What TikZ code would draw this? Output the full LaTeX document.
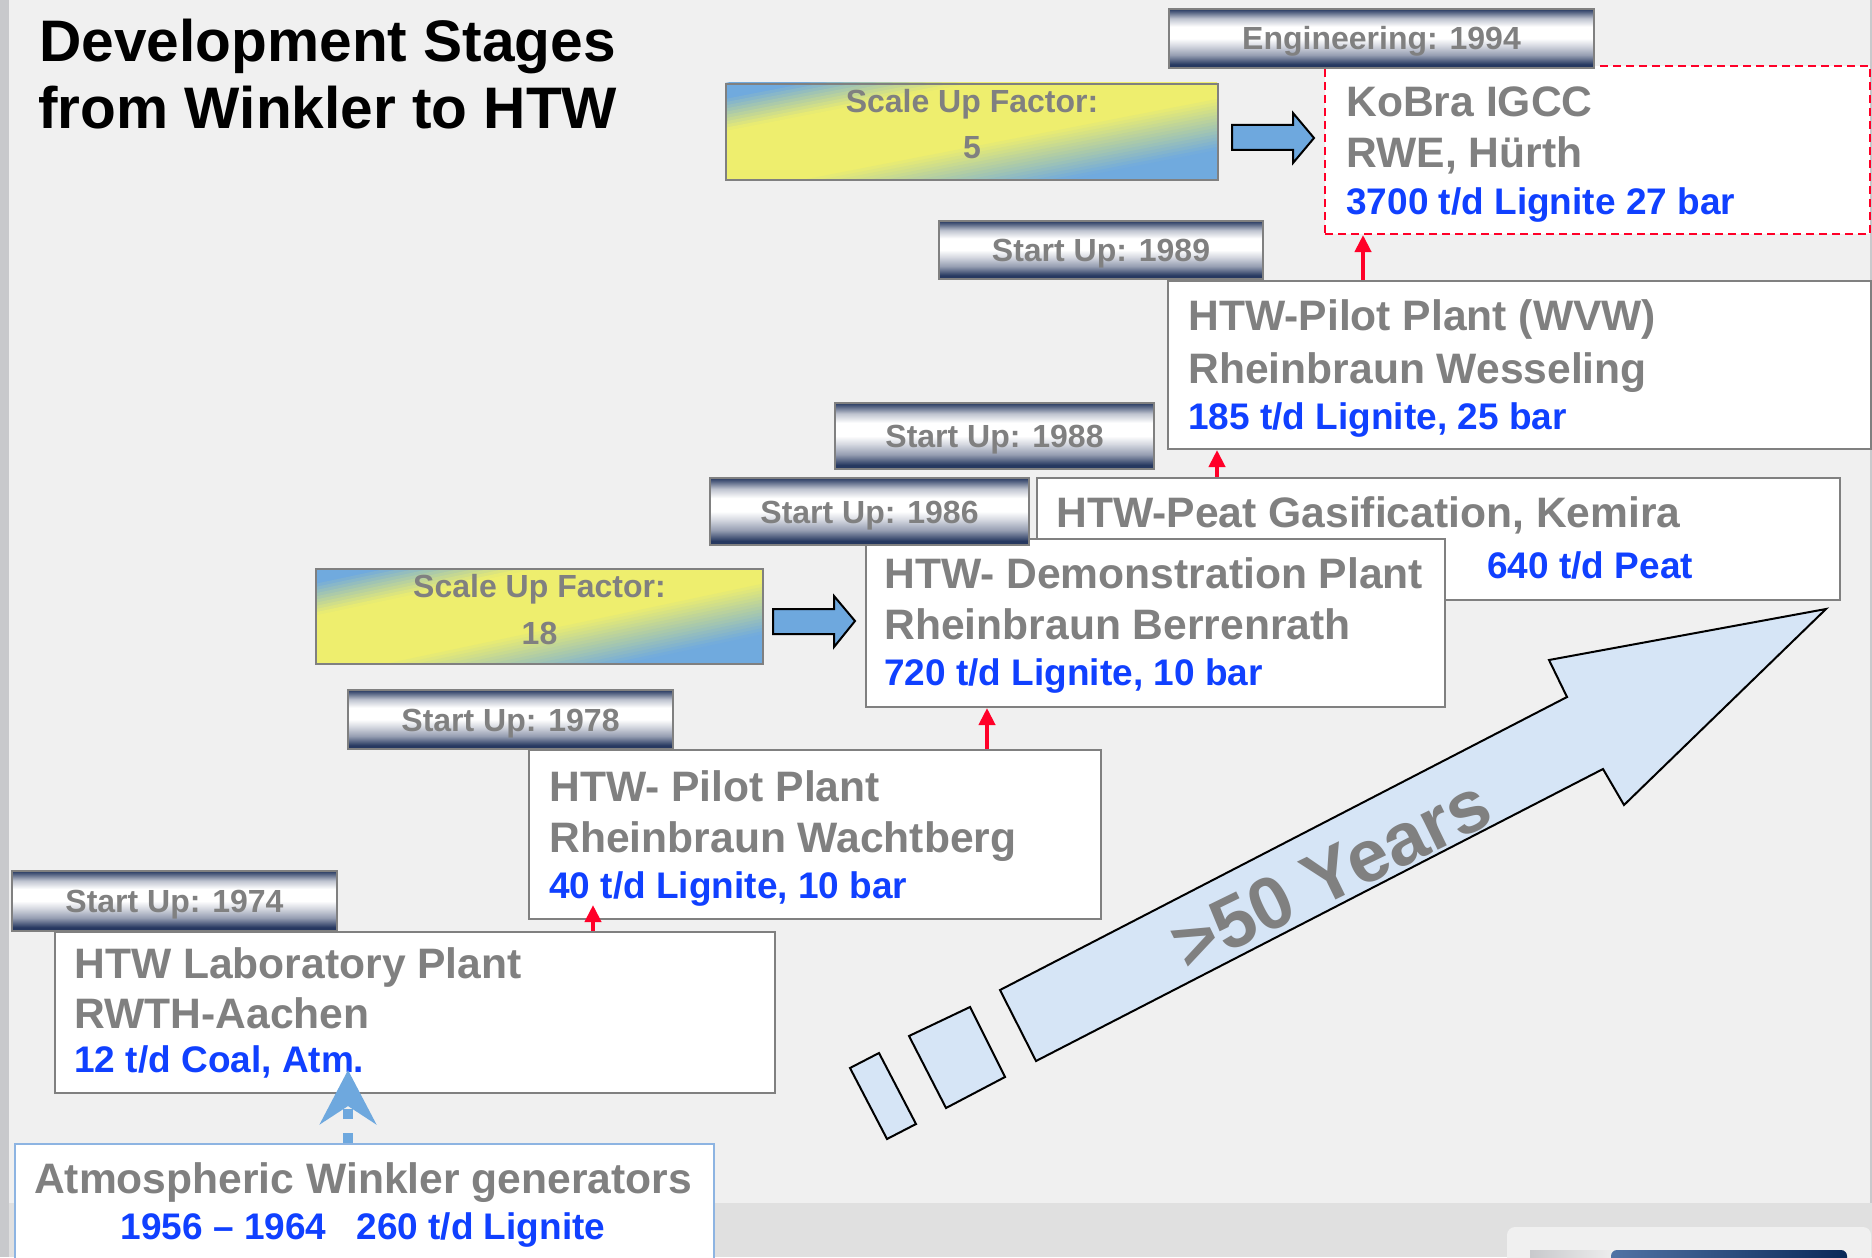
\documentclass[tikz,border=0pt]{standalone}
\usepackage{fontspec}
\setmainfont{Liberation Sans}
\usetikzlibrary{arrows.meta,calc}

\definecolor{bgc}{RGB}{240,240,240}
\definecolor{bandc}{RGB}{224,224,224}
\definecolor{stripc}{RGB}{200,201,204}
\definecolor{boxgray}{RGB}{128,128,128}
\definecolor{txtgray}{RGB}{128,128,128}
\definecolor{bluetxt}{RGB}{16,64,255}
\definecolor{redc}{RGB}{255,0,40}
\definecolor{arrowblue}{RGB}{110,168,222}
\definecolor{lightarrow}{RGB}{214,229,246}
\definecolor{navyc}{RGB}{38,56,96}
\definecolor{metalg}{RGB}{150,158,178}
\definecolor{metall}{RGB}{214,217,225}
\definecolor{metalgb}{RGB}{190,195,207}
\definecolor{sblue}{RGB}{112,170,222}
\definecolor{syel}{RGB}{238,238,110}
\definecolor{atmborder}{RGB}{141,180,226}
\definecolor{logoblue}{RGB}{80,115,165}
\definecolor{logonavy}{RGB}{10,40,88}

\pgfdeclareverticalshading{metalbar}{100bp}{color(0bp)=(navyc); color(25bp)=(navyc); color(28bp)=(navyc); color(36bp)=(metalg); color(44bp)=(metall); color(50bp)=(white); color(60bp)=(white); color(67bp)=(metalgb); color(72bp)=(navyc!75!white); color(75bp)=(navyc); color(100bp)=(navyc)}

\newcommand\plantfont{\fontsize{21.3}{25}\selectfont\bfseries}
\newcommand\datafont{\fontsize{18.5}{22}\selectfont\bfseries}
\newcommand\bannerfont{\fontsize{16}{19}\selectfont\bfseries}
\newcommand\titlefont{\fontsize{29.3}{34}\selectfont\bfseries}

% diagonal blue-yellow-blue gradient, x y w h in picture pixels
\newcommand\scalegrad[4]{%
  \begin{scope}
    \clip (#1,#2) rectangle ++(#3,#4);
    \begin{scope}[shift={(#1,#2)}, x={(#3,0)}, y={(0,#4)}]
      \foreach \i in {0,...,59}{
        \pgfmathsetmacro\ca{\i/30}
        \pgfmathsetmacro\cb{(\i+1.3)/30}
        \pgfmathsetmacro\sv{(\i+0.5)/30-1}
        \pgfmathsetmacro\pct{100*max(0,min(1,min((\sv+0.85)/0.35,(0.7-\sv)/0.55)))}
        \fill[syel!\pct!sblue] (\ca+1,-1) -- (\ca-2,2) -- (\cb-2,2) -- (\cb+1,-1) -- cycle;
      }
    \end{scope}
  \end{scope}}

\begin{document}
\begin{tikzpicture}[x=0.5pt,y=-0.5pt,
  plant/.style={draw=boxgray, line width=1pt, fill=white, inner sep=0pt, anchor=north west},
  kobrabox/.style={draw=redc, line width=1pt, dash pattern=on 4pt off 2.5pt, fill=white, inner sep=0pt, anchor=north west},
  atmbox/.style={draw=atmborder, line width=1pt, fill=white, inner sep=0pt, anchor=north west},
  banner/.style={draw=boxgray, line width=1pt, shading=metalbar, inner sep=0pt, anchor=north west,
    text=txtgray, font=\bannerfont, text height=11.5pt, text depth=0pt},
  scalebox/.style={draw=boxgray, line width=1pt, inner sep=0pt, anchor=north west},
  ln/.style={anchor=base west, inner sep=0pt, text=txtgray, font=\plantfont},
  dl/.style={anchor=base west, inner sep=0pt, text=bluetxt, font=\datafont},
  sl/.style={anchor=base, inner sep=0pt, text=txtgray, font=\bannerfont},
  redarrow/.style={draw=redc, line width=2pt, -{Triangle[width=8pt,length=8.5pt]}},
  blockarrow/.style={draw=black, line width=1pt, fill=arrowblue, line join=miter},
  bigarrow/.style={draw=black, line width=1pt, fill=lightarrow, line join=miter}
]
\useasboundingbox (0,0) rectangle (1872,1257);
% background
\fill[bgc] (0,0) rectangle (1872,1257);
\fill[bandc] (0,1203) rectangle (1872,1257);
\fill[stripc] (0,0) rectangle (9,1257);
\draw[stripc, line width=1pt] (1871,0) -- (1871,1203);
\fill[bgc, rounded corners=4pt] (1507,1227) rectangle (1871,1275);
\shade[left color=stripc, right color=bandc!60!white] (1530,1250) rectangle (1611,1262);
\shade[left color=logoblue, right color=logonavy, rounded corners=3pt] (1611,1250) rectangle (1847,1266);

% title
\node[anchor=base west, inner sep=0pt, font=\titlefont] (title1) at (39,62) {Development Stages};
\node[anchor=base west, inner sep=0pt, font=\titlefont] (title2) at (38,129) {from Winkler to HTW};

% scale up boxes
\scalegrad{725}{83}{492}{96}
\node[scalebox, minimum width=246pt, minimum height=48pt] (s5) at (725,83) {};
\node[sl] (s5a) at ($(s5.north)+(0,30)$) {Scale Up Factor:};
\node[sl] (s5b) at ($(s5.north)+(0,76)$) {5};
\scalegrad{315}{568}{447}{95}
\node[scalebox, minimum width=223.5pt, minimum height=47.5pt] (s18) at (315,568) {};
\node[sl] (s18a) at ($(s18.north)+(0,29)$) {Scale Up Factor:};
\node[sl] (s18b) at ($(s18.north)+(0,76)$) {18};

% block arrows
\draw[blockarrow] (1232,125) -- (1293,125) -- (1293,113) -- (1314,138) -- (1293,163) -- (1293,150) -- (1232,150) -- cycle;
\draw[blockarrow] (773,609) -- (834,609) -- (834,596) -- (855,621) -- (834,647) -- (834,634) -- (773,634) -- cycle;

% KoBra
\node[kobrabox, minimum width=272.5pt, minimum height=84pt] (kobra) at (1324,65) {};
\node[ln] (k1) at ($(kobra.north west)+(22,52)$) {KoBra IGCC};
\node[ln] (k2) at ($(kobra.north west)+(22,103)$) {RWE, Hürth};
\node[dl] (k3) at ($(kobra.north west)+(22,149)$) {3700 t/d Lignite 27 bar};

% WVW
\node[plant, minimum width=351.5pt, minimum height=84pt] (wvw) at (1167,280) {};
\node[ln] (w1) at ($(wvw.north west)+(21,50)$) {HTW-Pilot Plant (WVW)};
\node[ln] (w2) at ($(wvw.north west)+(21,103)$) {Rheinbraun Wesseling};
\node[dl] (w3) at ($(wvw.north west)+(21,149)$) {185 t/d Lignite, 25 bar};

% Peat
\node[plant, minimum width=401.5pt, minimum height=61pt] (peat) at (1036,477) {};
\node[ln] (p1) at ($(peat.north west)+(20,50)$) {HTW-Peat Gasification, Kemira};
\node[dl] (p2) at ($(peat.north west)+(451,101)$) {640 t/d Peat};

% Demo
\node[plant, minimum width=289.5pt, minimum height=84pt] (demo) at (865,538) {};
\node[ln] (d1) at ($(demo.north west)+(19,50)$) {HTW- Demonstration Plant};
\node[ln] (d2) at ($(demo.north west)+(19,101)$) {Rheinbraun Berrenrath};
\node[dl] (d3) at ($(demo.north west)+(19,147)$) {720 t/d Lignite, 10 bar};

% Wachtberg
\node[plant, minimum width=286pt, minimum height=84.5pt] (wacht) at (528,749) {};
\node[ln] (a1) at ($(wacht.north west)+(21,52)$) {HTW- Pilot Plant};
\node[ln] (a2) at ($(wacht.north west)+(21,103)$) {Rheinbraun Wachtberg};
\node[dl] (a3) at ($(wacht.north west)+(21,149)$) {40 t/d Lignite, 10 bar};

% Lab
\node[plant, minimum width=360pt, minimum height=80.5pt] (lab) at (54,931) {};
\node[ln] (l1) at ($(lab.north west)+(20,47)$) {HTW Laboratory Plant};
\node[ln] (l2) at ($(lab.north west)+(20,97)$) {RWTH-Aachen};
\node[dl] (l3) at ($(lab.north west)+(20,141)$) {12 t/d Coal, Atm.};

% Atmospheric
\node[atmbox, minimum width=349.5pt, minimum height=62pt] (atm) at (14,1143) {};
\node[anchor=base, inner sep=0pt, text=txtgray, font=\plantfont] (m1) at (363,1193) {Atmospheric Winkler generators};
\node[anchor=base, inner sep=0pt, text=bluetxt, font=\datafont] (m2) at (363,1239) {1956 – 1964\hspace{15pt}260 t/d Lignite};

% banners
\node[banner, minimum width=212.5pt, minimum height=29.5pt] (eng) at (1168,8) {Engineering: 1994};
\node[banner, minimum width=162pt, minimum height=29pt] (b89) at (938,220) {Start Up: 1989};
\node[banner, minimum width=159.5pt, minimum height=33pt] (b88) at (834,402) {Start Up: 1988};
\node[banner, minimum width=159.5pt, minimum height=33.5pt] (b86) at (709,477) {Start Up: 1986};
\node[banner, minimum width=162.5pt, minimum height=29.5pt] (b78) at (347,689) {Start Up: 1978};
\node[banner, minimum width=162.5pt, minimum height=30pt] (b74) at (11,870) {Start Up: 1974};

% red connectors
\coordinate (xa) at (1363,0);
\coordinate (xb) at (1217,0);
\coordinate (xc) at (987,0);
\coordinate (xd) at (593,0);
\coordinate (xe) at (348,0);
\draw[redarrow] (wvw.north -| xa) -- (kobra.south -| xa);
\draw[redarrow] (peat.north -| xb) -- (wvw.south -| xb);
\draw[redarrow] (wacht.north -| xc) -- (demo.south -| xc);
\coordinate (labtip) at ($(wacht.south -| xd)+(0,-15)$);
\draw[redarrow] (lab.north -| xd) -- (labtip);
\coordinate (atmtip) at ($(lab.south -| xe)+(0,-24)$);
\draw[draw=arrowblue, line width=5pt, dash pattern=on 5pt off 7pt,
  -{Stealth[width=28pt,length=27pt,inset=9pt]}] (atm.north -| xe) -- (atmtip);

% >50 years arrow
\draw[bigarrow] (1036,1061) -- (1000,990) -- (1567,697) -- (1549,660) -- (1826,609) -- (1624,805) -- (1603,769) -- cycle;
\draw[bigarrow] (909,1036) -- (970,1007) -- (1005,1077) -- (946,1108) -- cycle;
\draw[bigarrow] (850,1068) -- (879,1053) -- (916,1124) -- (887,1139) -- cycle;
\node[rotate=26, inner sep=0pt, text=txtgray, font=\fontsize{37}{40}\selectfont\bfseries] (years) at (1331,874) {>50 Years};
\end{tikzpicture}
\end{document}
